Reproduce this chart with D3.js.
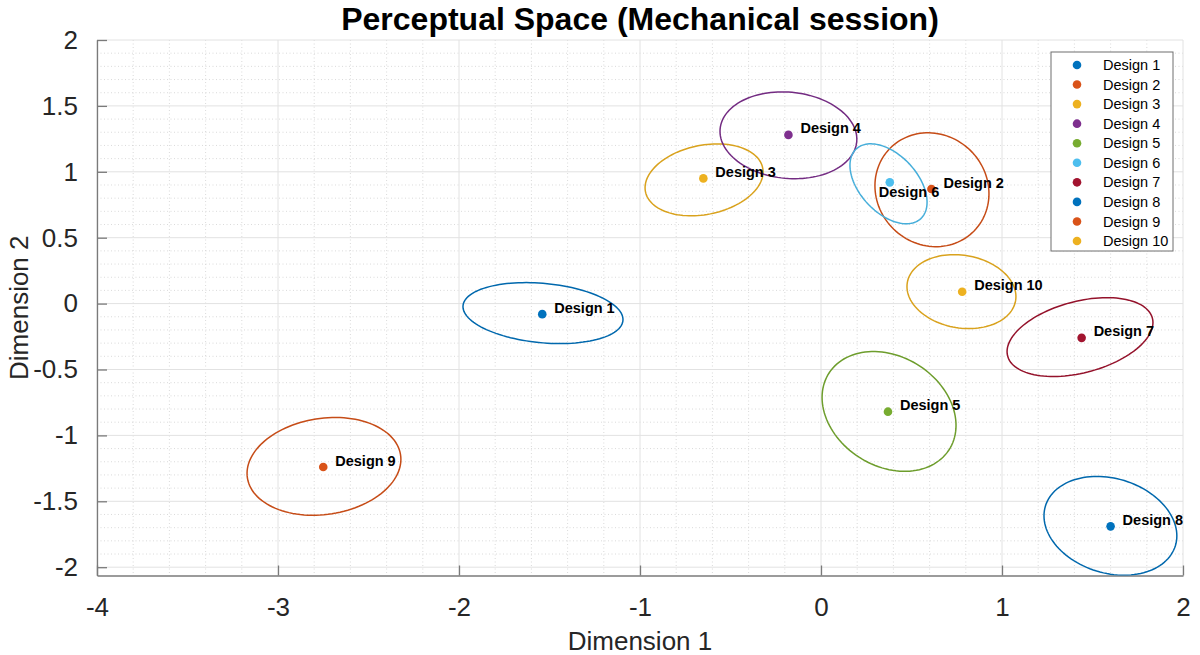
<!DOCTYPE html>
<html>
<head>
<meta charset="utf-8">
<script src="https://cdn.jsdelivr.net/npm/d3@7/dist/d3.min.js"></script>
<style>
  html, body { margin: 0; padding: 0; background: #fff; }
  svg { display: block; font-family: "Liberation Sans", Arial, Helvetica, sans-serif; }
</style>
</head>
<body>
<svg id="chart" width="1200" height="655"></svg>
<script>
// ---- data ----
const designs = ["Design 1","Design 2","Design 3","Design 4","Design 5","Design 6","Design 7","Design 8","Design 9","Design 10"];
const pointX = [-1.54, 0.61, -0.65, -0.18, 0.37, 0.38, 1.44, 1.60, -2.75, 0.78];
const pointY = [-0.08, 0.87, 0.95, 1.28, -0.82, 0.92, -0.26, -1.69, -1.24, 0.09];
// ellipse (confidence region) centre, half-width (x), half-height (y) and tilt (y-offset of rightmost point)
const ellX  = [-1.536, 0.613, -0.646, -0.180, 0.376, 0.373, 1.431, 1.599, -2.746, 0.776];
const ellY  = [-0.072, 0.864, 0.939, 1.277, -0.818, 0.909, -0.254, -1.686, -1.235, 0.091];
const ellRx = [0.442, 0.315, 0.326, 0.378, 0.370, 0.213, 0.403, 0.367, 0.425, 0.301];
const ellRy = [0.226, 0.431, 0.266, 0.328, 0.442, 0.269, 0.278, 0.367, 0.367, 0.278];
const ellK  = [-0.049, -0.030, 0.060, -0.030, -0.106, -0.140, 0.110, -0.076, 0.053, -0.038];
const xTicks = [-4, -3, -2, -1, 0, 1, 2];
const yTicks = [-2, -1.5, -1, -0.5, 0, 0.5, 1, 1.5, 2];
const colors = ["#0072BD","#D95319","#EDB120","#7E2F8E","#77AC30","#4DBEEE","#A2142F","#0072BD","#D95319","#EDB120"];
const titleText = "Perceptual Space (Mechanical session)";
const xLabel = "Dimension 1";
const yLabel = "Dimension 2";

// ---- layout ----
const L = 97, R = 1183, T = 40, B = 575.5;
const x = d3.scaleLinear().domain([-4, 2]).range([L, R]);
const y = d3.scaleLinear().domain([-2.063, 2]).range([B, T]);

const svg = d3.select("#chart");

// minor grid
const gMinor = svg.append("g");
const xMinor = d3.range(-4, 2.0001, 0.2).map(v => +v.toFixed(2)).filter(v => Math.abs(v - Math.round(v)) > 1e-6);
const yMinor = d3.range(-2, 2.0001, 0.1).map(v => +v.toFixed(2)).filter(v => Math.abs(v*2 - Math.round(v*2)) > 1e-6);
gMinor.selectAll("line.xm").data(xMinor).join("line")
  .attr("x1", d => x(d)).attr("x2", d => x(d)).attr("y1", T).attr("y2", B)
  .attr("stroke", "#d0d0d0").attr("stroke-width", 0.8).attr("stroke-dasharray", "1,2.5");
gMinor.selectAll("line.ym").data(yMinor).join("line")
  .attr("y1", d => y(d)).attr("y2", d => y(d)).attr("x1", L).attr("x2", R)
  .attr("stroke", "#d0d0d0").attr("stroke-width", 0.8).attr("stroke-dasharray", "1,2.5");

// major grid
const gMajor = svg.append("g");
gMajor.selectAll("line.xg").data(xTicks).join("line")
  .attr("x1", d => x(d)).attr("x2", d => x(d)).attr("y1", T).attr("y2", B)
  .attr("stroke", "#e2e2e2").attr("stroke-width", 1);
gMajor.selectAll("line.yg").data(yTicks).join("line")
  .attr("y1", d => y(d)).attr("y2", d => y(d)).attr("x1", L).attr("x2", R)
  .attr("stroke", "#e2e2e2").attr("stroke-width", 1);

// axes
const axisColor = "#7a7a7a";
const fmt = d => String(d);
const xAxis = d3.axisBottom(x).tickValues(xTicks).tickSizeInner(-10).tickSizeOuter(0).tickPadding(22).tickFormat(fmt);
const yAxis = d3.axisLeft(y).tickValues(yTicks).tickSizeInner(-10).tickSizeOuter(0).tickPadding(19).tickFormat(fmt);
const gx = svg.append("g").attr("transform", `translate(0,${B})`).call(xAxis);
const gy = svg.append("g").attr("transform", `translate(${L},0)`).call(yAxis);
[gx, gy].forEach(g => {
  g.select(".domain").attr("stroke", axisColor).attr("stroke-width", 1.3);
  g.selectAll(".tick line").attr("stroke", axisColor).attr("stroke-width", 1.3);
  g.selectAll(".tick text").attr("fill", "#262626").style("font-size", "26px")
    .style("font-family", '"Liberation Sans", Arial, sans-serif');
});
gx.selectAll(".tick text").attr("dy", "0.71em");

// clip for data
svg.append("clipPath").attr("id", "plotclip").append("rect")
  .attr("x", L).attr("y", T).attr("width", R - L).attr("height", B - T);
const plot = svg.append("g").attr("clip-path", "url(#plotclip)");

// ellipses
const ts = d3.range(0, 121).map(i => i / 120 * 2 * Math.PI);
const line = d3.line().x(d => x(d[0])).y(d => y(d[1])).curve(d3.curveLinearClosed);
designs.forEach((name, i) => {
  const pts = ts.map(t => [ellX[i] + ellRx[i] * Math.cos(t), ellY[i] + ellRy[i] * Math.sin(t) + ellK[i] * Math.cos(t)]);
  plot.append("path").attr("d", line(pts)).attr("fill", "none")
    .attr("stroke", d3.color(colors[i]).darker(0.25).formatHex()).attr("stroke-width", 1.5);
});

// points
plot.selectAll("circle.pt").data(designs).join("circle")
  .attr("cx", (d, i) => x(pointX[i])).attr("cy", (d, i) => y(pointY[i]))
  .attr("r", 4.3).attr("fill", (d, i) => colors[i]);

// labels
const labelShift = { "Design 6": [-11, 10] };
svg.selectAll("text.lbl").data(designs).join("text")
  .attr("x", (d, i) => x(pointX[i]) + (labelShift[d] ? labelShift[d][0] : 12))
  .attr("y", (d, i) => y(pointY[i]) + (labelShift[d] ? labelShift[d][1] : -6.5))
  .attr("dy", "0.35em")
  .attr("fill", "#000").style("font-size", "14.5px").style("font-weight", "bold")
  .text(d => d);

// title
svg.append("text").attr("x", (L + R) / 2).attr("y", 30).attr("text-anchor", "middle")
  .style("font-size", "32px").style("font-weight", "bold").attr("fill", "#000").text(titleText);

// axis labels
svg.append("text").attr("x", (L + R) / 2).attr("y", 650).attr("text-anchor", "middle")
  .style("font-size", "26px").attr("fill", "#262626").text(xLabel);
svg.append("text").attr("transform", `translate(28,${(T + B) / 2}) rotate(-90)`).attr("text-anchor", "middle")
  .style("font-size", "26px").attr("fill", "#262626").text(yLabel);

// legend
const lg = svg.append("g");
const lgX = 1051, lgY = 52, lgW = 122, lgH = 199;
lg.append("rect").attr("x", lgX).attr("y", lgY).attr("width", lgW).attr("height", lgH)
  .attr("fill", "#fff").attr("stroke", "#6e6e6e").attr("stroke-width", 1);
const rowY = d3.scalePoint().domain(designs).range([lgY + 13, lgY + 189]);
lg.selectAll("circle").data(designs).join("circle")
  .attr("cx", lgX + 26).attr("cy", d => rowY(d)).attr("r", 4.3).attr("fill", (d, i) => colors[i]);
lg.selectAll("text").data(designs).join("text")
  .attr("x", lgX + 52).attr("y", d => rowY(d)).attr("dy", "0.35em")
  .style("font-size", "14.5px").attr("fill", "#000").text(d => d);
</script>
</body>
</html>
